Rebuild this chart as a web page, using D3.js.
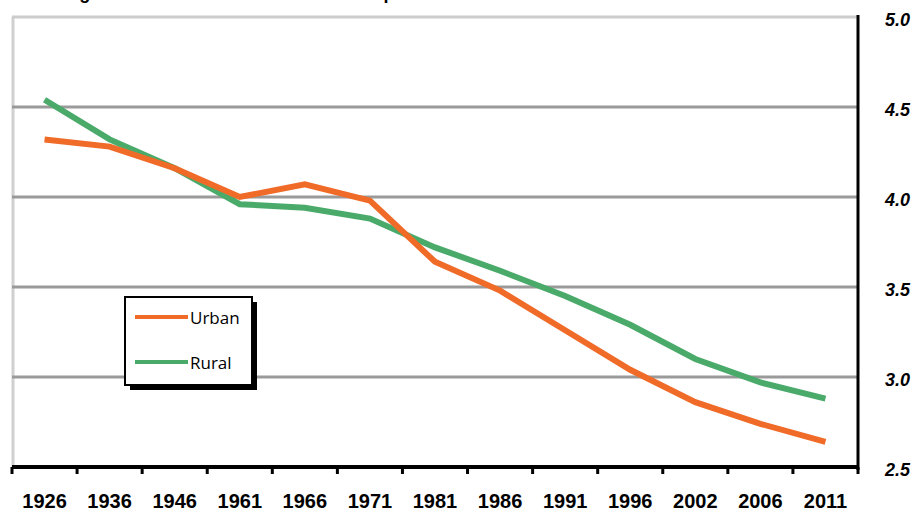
<!DOCTYPE html>
<html>
<head>
<meta charset="utf-8">
<script src="https://cdn.jsdelivr.net/npm/d3@7"></script>
<style>
  html, body { margin: 0; padding: 0; background: #fff; }
  svg { display: block; }
</style>
</head>
<body>
<div id="chart"></div>
<script>
const years = ['1926', '1936', '1946', '1961', '1966', '1971', '1981', '1986', '1991', '1996', '2002', '2006', '2011'];
const urban = [4.32, 4.28, 4.16, 4.00, 4.07, 3.98, 3.64, 3.48, 3.26, 3.04, 2.86, 2.74, 2.64];
const rural = [4.54, 4.32, 4.16, 3.96, 3.94, 3.88, 3.72, 3.59, 3.45, 3.29, 3.10, 2.97, 2.88];
const yTicks = [2.5, 3.0, 3.5, 4.0, 4.5, 5.0];

const width = 917;
const height = 513;
const margin = { top: 17, right: 59, bottom: 46, left: 12 };
const innerW = width - margin.left - margin.right;
const innerH = height - margin.top - margin.bottom;

const svg = d3.select('#chart')
  .append('svg')
    .attr('width', width)
    .attr('height', height);

// title, mostly cut off by the top edge (as in the source image)
svg.append('text')
  .attr('x', 30)
  .attr('y', -1)
  .style('font', 'bold 18px "Liberation Sans", Arial, sans-serif')
  .text('Average Household Size: Urban vs Rural per Census');

const g = svg.append('g')
  .attr('transform', 'translate(' + margin.left + ',' + margin.top + ')');

const x = d3.scaleBand()
  .domain(years)
  .range([0, innerW]);

const y = d3.scaleLinear()
  .domain([2.5, 5.0])
  .range([innerH, 0]);

// left border
g.append('line')
  .attr('x1', 1).attr('x2', 1)
  .attr('y1', 0).attr('y2', innerH)
  .attr('stroke', '#d0d0d0')
  .attr('stroke-width', 3);

// gridlines
g.selectAll('.grid')
  .data(yTicks.filter((d) => d > 2.5))
  .enter().append('line')
    .attr('class', 'grid')
    .attr('x1', 0)
    .attr('x2', innerW)
    .attr('y1', (d) => y(d))
    .attr('y2', (d) => y(d))
    .attr('stroke', (d) => d === 5.0 ? '#cccccc' : '#9a9a9a')
    .attr('stroke-width', 3);

// right axis
const yAxis = g.append('g')
  .attr('transform', 'translate(' + innerW + ',0)')
  .call(d3.axisRight(y)
    .tickValues(yTicks)
    .tickSize(0)
    .tickPadding(27)
    .tickFormat(d3.format('.1f')));
yAxis.select('.domain')
  .attr('d', 'M0,-2V' + (innerH + 3))
  .attr('stroke', '#000')
  .attr('stroke-width', 3);
yAxis.selectAll('text')
  .attr('dy', '0.45em')
  .style('font', 'italic bold 18px "Liberation Sans", Arial, sans-serif')
  .attr('fill', '#000');

// bottom axis
const tickPos = years.map((d) => x(d)).concat([innerW]);
g.append('line')
  .attr('x1', 0).attr('x2', innerW + 1)
  .attr('y1', innerH).attr('y2', innerH)
  .attr('stroke', '#000')
  .attr('stroke-width', 4);
g.selectAll('.xtick')
  .data(tickPos)
  .enter().append('line')
    .attr('class', 'xtick')
    .attr('x1', (d) => d).attr('x2', (d) => d)
    .attr('y1', innerH).attr('y2', innerH + 7)
    .attr('stroke', '#000')
    .attr('stroke-width', 3);
g.selectAll('.xlabel')
  .data(years)
  .enter().append('text')
    .attr('class', 'xlabel')
    .attr('x', (d) => x(d) + x.bandwidth() / 2)
    .attr('y', innerH + 41)
    .attr('text-anchor', 'middle')
    .style('font', 'bold 20px "Liberation Sans", Arial, sans-serif')
    .text((d) => d);

// lines
const line = d3.line()
  .x((d, i) => x(years[i]) + x.bandwidth() / 2)
  .y((d) => y(d));

const series = [
  { name: 'Urban', values: urban, color: '#f06a28' },
  { name: 'Rural', values: rural, color: '#4aaa6a' }
];

g.selectAll('.series')
  .data(series.slice().reverse())
  .enter().append('path')
    .attr('class', 'series')
    .attr('d', (d) => line(d.values))
    .attr('fill', 'none')
    .attr('stroke', (d) => d.color)
    .attr('stroke-width', 6)
    .attr('stroke-linejoin', 'miter');

// legend
const legend = svg.append('g')
  .attr('transform', 'translate(125,297)');
legend.append('rect')
  .attr('x', 5).attr('y', 5)
  .attr('width', 127).attr('height', 88)
  .attr('fill', '#000');
legend.append('rect')
  .attr('x', 0).attr('y', 0)
  .attr('width', 127).attr('height', 88)
  .attr('fill', '#fff')
  .attr('stroke', '#000')
  .attr('stroke-width', 2);
series.forEach((s, i) => {
  const ly = 20 + i * 45;
  legend.append('line')
    .attr('x1', 10).attr('x2', 63)
    .attr('y1', ly).attr('y2', ly)
    .attr('stroke', s.color)
    .attr('stroke-width', 4);
  legend.append('text')
    .attr('x', 65)
    .attr('y', ly + 7)
    .style('font', '17px "Open Sans", "Noto Sans", sans-serif')
    .text(s.name);
});
</script>
</body>
</html>
